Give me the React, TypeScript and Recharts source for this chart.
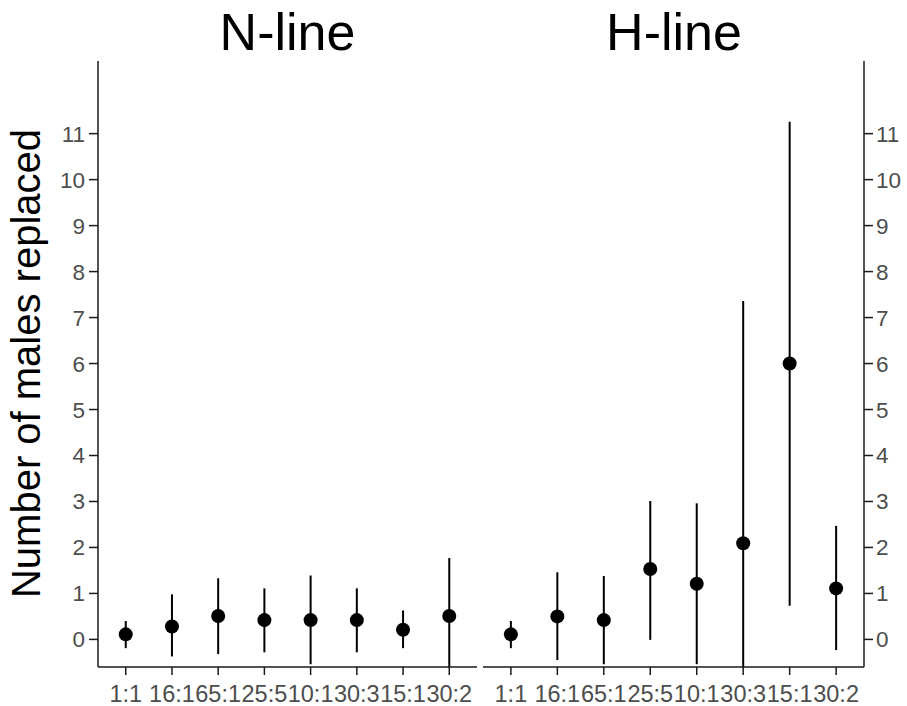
import { ScatterChart, Scatter, XAxis, YAxis, ErrorBar } from 'recharts';

const categories = ['1:1', '16:1', '65:1', '25:5', '10:1', '30:3', '15:1', '30:2'];
const yTicks = [0, 1, 2, 3, 4, 5, 6, 7, 8, 9, 10, 11];

// N-line: mean and interval ends
const nMean = [0.11, 0.28, 0.51, 0.42, 0.42, 0.42, 0.21, 0.51];
const nLow = [-0.19, -0.37, -0.32, -0.28, -0.54, -0.28, -0.19, -0.6];
const nHigh = [0.4, 0.98, 1.33, 1.11, 1.39, 1.11, 0.63, 1.77];

// H-line
const hMean = [0.11, 0.5, 0.42, 1.53, 1.21, 2.09, 6.0, 1.11];
const hLow = [-0.19, -0.45, -0.54, -0.01, -0.54, -0.6, 0.73, -0.23];
const hHigh = [0.4, 1.46, 1.38, 3.01, 2.96, 7.36, 11.26, 2.47];

const FONT = "'Liberation Sans', Arial, sans-serif";
const AXIS = '#1a1a1a';
const TICK_TEXT = '#4D4D4D';

function buildRows(mean: number[], low: number[], high: number[]) {
  return categories.map((c, i) => ({
    x: i + 1,
    label: c,
    y: mean[i],
    err: [mean[i] - low[i], high[i] - mean[i]],
  }));
}

const Dot = (props: any) => <circle cx={props.cx} cy={props.cy} r={7} fill='#000' />;

function Panel({ rows, side }: { rows: any[]; side: 'left' | 'right' }) {
  const isLeft = side === 'left';
  return (
    <ScatterChart
      width={isLeft ? 480 : 424}
      height={706}
      margin={{ top: 61, right: isLeft ? 3 : 0, left: 0, bottom: 1 }}>
      <XAxis
        type='number'
        dataKey='x'
        domain={[0.4, 8.6]}
        ticks={[1, 2, 3, 4, 5, 6, 7, 8]}
        interval={0}
        tickFormatter={(v: number) => categories[v - 1]}
        height={38}
        tickSize={8}
        tickMargin={10}
        axisLine={{ stroke: AXIS, strokeWidth: 1.5 }}
        tickLine={{ stroke: AXIS, strokeWidth: 1.5 }}
        tick={{ fill: TICK_TEXT, fontSize: 23.5, fontFamily: FONT }}
      />
      <YAxis
        type='number'
        dataKey='y'
        orientation={isLeft ? 'left' : 'right'}
        width={isLeft ? 98 : 43}
        domain={[-0.6, 12.58]}
        allowDataOverflow
        ticks={yTicks}
        interval={0}
        tickSize={9}
        tickMargin={isLeft ? 4 : 3}
        axisLine={{ stroke: AXIS, strokeWidth: 1.5 }}
        tickLine={{ stroke: AXIS, strokeWidth: 1.5 }}
        tick={{ fill: TICK_TEXT, fontSize: 22.5, fontFamily: FONT }}
      />
      <Scatter data={rows} shape={Dot} isAnimationActive={false}>
        <ErrorBar dataKey='err' direction='y' width={0} stroke='#000' strokeWidth={2} />
      </Scatter>
    </ScatterChart>
  );
}

export default function App() {
  const nRows = buildRows(nMean, nLow, nHigh);
  const hRows = buildRows(hMean, hLow, hHigh);
  return (
    <div style={{ position: 'absolute', left: 0, top: 0, width: 907, height: 706, background: '#fff' }}>
      <div style={{ position: 'absolute', left: 0, top: 0 }}>
        <Panel rows={nRows} side='left' />
      </div>
      <div style={{ position: 'absolute', left: 483, top: 0 }}>
        <Panel rows={hRows} side='right' />
      </div>
      <svg
        width={907}
        height={706}
        style={{ position: 'absolute', left: 0, top: 0, pointerEvents: 'none' }}>
        <text x={287.5} y={50} textAnchor='middle' fontSize={52} fontFamily={FONT} fill='#000'>
          N-line
        </text>
        <text x={674} y={50} textAnchor='middle' fontSize={52} fontFamily={FONT} fill='#000'>
          H-line
        </text>
        <text
          transform='translate(40,363.5) rotate(-90)'
          textAnchor='middle'
          fontSize={40}
          fontFamily={FONT}
          fill='#000'>
          Number of males replaced
        </text>
      </svg>
    </div>
  );
}
